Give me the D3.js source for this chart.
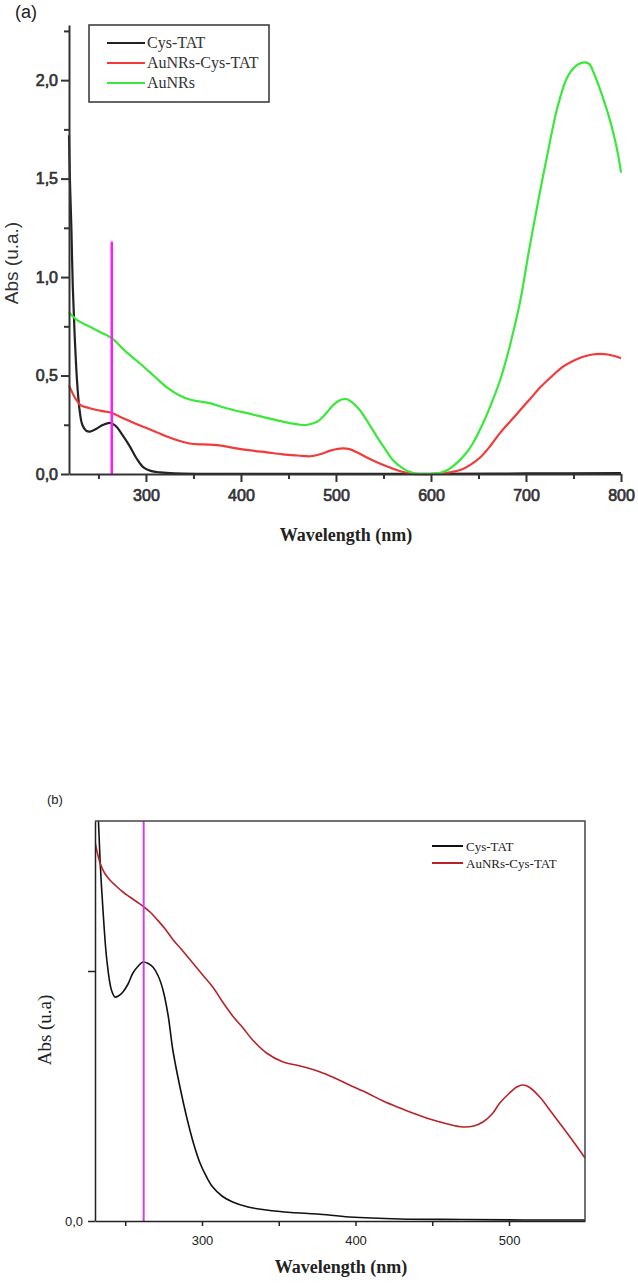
<!DOCTYPE html>
<html>
<head>
<meta charset="utf-8">
<script src="https://cdn.jsdelivr.net/npm/d3@7"></script>
<style>
  body { margin: 0; background: #fff; }
  svg { display: block; }
</style>
</head>
<body>
<svg width="638" height="1284"></svg>
<script>
// ---- data: panel (a), [wavelength nm, absorbance]
var cysTatA = [[219,1.72],[220,1.49],[221.5,1.25],[223,0.95],[225,0.7],[227.5,0.47],[230,0.33],[233,0.25],[237,0.22],[241,0.215],[248,0.23],[255,0.25],[262,0.26],[268,0.245],[275,0.2],[283,0.14],[290,0.08],[297,0.035],[305,0.016],[315,0.008],[330,0.003],[360,0.001],[450,0.001],[600,0.001],[700,0.003],[800,0.005]];
var auNRsCysTatA = [[219,0.45],[225,0.39],[231,0.35],[240,0.335],[248,0.325],[256,0.318],[264,0.31],[272,0.292],[280,0.275],[288,0.258],[297,0.24],[310,0.215],[322,0.19],[334,0.17],[346,0.155],[360,0.15],[375,0.147],[392,0.133],[410,0.12],[427,0.11],[444,0.1],[460,0.094],[473,0.09],[483,0.1],[495,0.12],[507,0.13],[515,0.125],[522,0.11],[532,0.085],[543,0.06],[554,0.038],[564,0.02],[572,0.008],[581,0],[600,0],[613,0.003],[622,0.01],[631,0.02],[641,0.045],[652,0.085],[662,0.14],[673,0.21],[684,0.27],[694,0.325],[705,0.385],[715,0.44],[727,0.495],[739,0.545],[750,0.575],[760,0.595],[770,0.607],[778,0.61],[786,0.607],[794,0.598],[800,0.588]];
var auNRsA = [[219,0.82],[228,0.78],[240,0.75],[252,0.72],[264,0.69],[278,0.625],[294,0.56],[308,0.5],[322,0.44],[335,0.4],[346,0.378],[357,0.368],[367,0.36],[380,0.34],[392,0.325],[410,0.305],[427,0.285],[445,0.265],[462,0.25],[470,0.25],[480,0.265],[490,0.31],[497,0.35],[504,0.375],[511,0.38],[518,0.36],[525,0.325],[534,0.26],[543,0.19],[552,0.125],[560,0.07],[570,0.03],[578,0.01],[588,0],[600,0],[609,0.005],[618,0.022],[627,0.055],[636,0.1],[644,0.155],[655,0.26],[665,0.375],[673,0.48],[680,0.595],[687,0.73],[694,0.88],[703,1.13],[713,1.39],[722,1.61],[733,1.86],[743,2.01],[752,2.07],[762,2.09],[767,2.08],[771,2.04],[776,1.98],[781,1.91],[787,1.82],[792,1.73],[797,1.62],[800,1.53]];
var markerA = 264;
var namesA = ["Cys-TAT", "AuNRs-Cys-TAT", "AuNRs"];
var colorsA = ["#222222", "#f23a3a", "#3ae83a"];
var xTicksA = [300, 400, 500, 600, 700, 800];
var xMinorA = [250, 350, 450, 550, 650, 750];
var yTicksA = [0, 0.5, 1, 1.5, 2];
var yMinorA = [0.25, 0.75, 1.25, 1.75, 2.25];

// ---- data: panel (b)
var cysTatB = [[231,0.95],[232,0.85],[233.6,0.722],[235.5,0.622],[238,0.522],[241,0.462],[243.3,0.448],[245.5,0.45],[248.5,0.458],[252,0.475],[255,0.496],[258.5,0.51],[261.6,0.518],[265,0.515],[268,0.508],[271.5,0.49],[274.6,0.462],[278,0.41],[281,0.342],[285.5,0.27],[290,0.208],[294.5,0.155],[298.7,0.116],[303,0.088],[307,0.068],[313,0.05],[320,0.038],[330,0.028],[342,0.022],[358,0.017],[375,0.014],[396,0.008],[429,0.004],[470,0.003],[510,0.002],[549.5,0.002]];
var auNRsCysTatB = [[230.3,0.758],[233.6,0.716],[236.5,0.696],[240,0.682],[244,0.67],[248.5,0.658],[253,0.648],[257.7,0.638],[262.2,0.628],[266.5,0.617],[270.7,0.603],[276,0.584],[281,0.563],[287.5,0.54],[294,0.516],[300.5,0.492],[307,0.468],[313,0.44],[320,0.41],[327,0.385],[333,0.362],[342,0.336],[352.8,0.318],[364,0.31],[377,0.298],[385,0.288],[396,0.272],[407.5,0.256],[418,0.24],[429,0.226],[440,0.213],[450.5,0.202],[460,0.194],[470,0.188],[477,0.19],[483,0.198],[489,0.214],[494,0.236],[500,0.255],[505,0.268],[509,0.272],[513,0.268],[520,0.248],[528,0.216],[537.8,0.176],[544,0.15],[549.5,0.126]];
var markerB = 262;
var namesB = ["Cys-TAT", "AuNRs-Cys-TAT"];
var colorsB = ["#111111", "#b8232a"];
var xTicksB = [300, 400, 500];
var xMinorB = [250, 350, 450];
var yTicksB = [0, 0.5];
var yLabelsB = ["0,0", ""];

var svg = d3.select("svg");
var fmt = d3.format(".1f");
var comma = (d) => fmt(d).replace(".", ",");

// =========== panel (a) ===========
var xA = d3.scaleLinear().domain([219, 800]).range([69, 621]);
var yA = d3.scaleLinear().domain([0, 2.28]).range([474, 25]);

var gA = svg.append("g");

gA.append("text").attr("x", 15).attr("y", 18)
  .style("font-family", "Arial, 'Liberation Sans', sans-serif")
  .style("font-size", "18px").attr("fill", "#222").text("(a)");

var lineA = d3.line().x((d) => xA(d[0])).y((d) => yA(d[1])).curve(d3.curveCatmullRom);

[cysTatA, auNRsCysTatA, auNRsA].forEach((s, i) => {
  gA.append("path").datum(s)
    .attr("d", lineA)
    .attr("fill", "none")
    .attr("stroke", colorsA[i])
    .attr("stroke-width", 2.2);
});

// marker line
gA.append("line")
  .attr("x1", xA(markerA)).attr("x2", xA(markerA))
  .attr("y1", yA(1.18)).attr("y2", yA(0))
  .attr("stroke", "#ff1aff").attr("stroke-width", 2.5);

// axes
var axA = gA.append("g").attr("transform", "translate(0,474)")
  .call(d3.axisBottom(xA).tickValues(xTicksA).tickSize(8).tickPadding(8).tickSizeOuter(0));
axA.append("g").call(d3.axisBottom(xA).tickValues(xMinorA).tickSize(5).tickFormat("").tickSizeOuter(0))
  .select(".domain").remove();
var ayA = gA.append("g").attr("transform", "translate(69,0)")
  .call(d3.axisLeft(yA).tickValues(yTicksA).tickSize(8).tickPadding(3).tickFormat(comma).tickSizeOuter(0));
ayA.append("g").call(d3.axisLeft(yA).tickValues(yMinorA).tickSize(5).tickFormat("").tickSizeOuter(0))
  .select(".domain").remove();

[axA, ayA].forEach((a) => {
  a.selectAll("path.domain").attr("stroke", "#333").attr("stroke-width", 2);
  a.selectAll("line").attr("stroke", "#333").attr("stroke-width", 2);
  a.selectAll("text")
    .style("font-family", "Arial, 'Liberation Sans', sans-serif")
    .style("font-size", "16px").attr("fill", "#333")
    .attr("stroke", "#333").attr("stroke-width", 0.7);
});

gA.append("text").attr("x", 346).attr("y", 541).attr("text-anchor", "middle")
  .style("font-family", "'Times New Roman', 'Liberation Serif', serif")
  .style("font-size", "18px").style("font-weight", "bold").attr("fill", "#222")
  .text("Wavelength (nm)");

gA.append("text").attr("transform", "translate(18,263) rotate(-90)")
  .attr("text-anchor", "middle")
  .style("font-family", "Arial, 'Liberation Sans', sans-serif")
  .style("font-size", "19px").attr("fill", "#333")
  .text("Abs (u.a.)");

// legend
var legA = gA.append("g");
legA.append("rect").attr("x", 89).attr("y", 25).attr("width", 180).attr("height", 77)
  .attr("fill", "#fff").attr("stroke", "#333").attr("stroke-width", 1.5);
namesA.forEach((n, i) => {
  var yy = 43 + i * 20;
  legA.append("line").attr("x1", 107).attr("x2", 145).attr("y1", yy).attr("y2", yy)
    .attr("stroke", colorsA[i]).attr("stroke-width", 2);
  legA.append("text").attr("x", 147).attr("y", yy + 5)
    .style("font-family", "'Times New Roman', 'Liberation Serif', serif")
    .style("font-size", "16px").attr("fill", "#333").text(n);
});

// =========== panel (b) ===========
var xB = d3.scaleLinear().domain([230.3, 549.5]).range([95, 585]);
var yB = d3.scaleLinear().domain([0, 0.8]).range([1221, 821]);

var gB = svg.append("g");

gB.append("text").attr("x", 47).attr("y", 804)
  .style("font-family", "Arial, 'Liberation Sans', sans-serif")
  .style("font-size", "13px").attr("fill", "#222").text("(b)");

gB.append("clipPath").attr("id", "clipB").append("rect")
  .attr("x", 95).attr("y", 821).attr("width", 490).attr("height", 400);

var lineB = d3.line().x((d) => xB(d[0])).y((d) => yB(d[1])).curve(d3.curveCatmullRom);

[cysTatB, auNRsCysTatB].forEach((s, i) => {
  gB.append("path").datum(s)
    .attr("clip-path", "url(#clipB)")
    .attr("d", lineB)
    .attr("fill", "none")
    .attr("stroke", colorsB[i])
    .attr("stroke-width", 1.6);
});

gB.append("line")
  .attr("x1", xB(markerB)).attr("x2", xB(markerB))
  .attr("y1", 821).attr("y2", 1221)
  .attr("stroke", "#d040e8").attr("stroke-width", 2);

// frame (top & right)
gB.append("path")
  .attr("d", "M95,821H585V1221")
  .attr("fill", "none").attr("stroke", "#444").attr("stroke-width", 1.5);

var axB = gB.append("g").attr("transform", "translate(0,1221)")
  .call(d3.axisBottom(xB).tickValues(xTicksB).tickSize(5).tickPadding(10).tickSizeOuter(0));
axB.append("g").call(d3.axisBottom(xB).tickValues(xMinorB).tickSize(5).tickFormat("").tickSizeOuter(0))
  .select(".domain").remove();
var ayB = gB.append("g").attr("transform", "translate(95,0)")
  .call(d3.axisLeft(yB).tickValues(yTicksB).tickSize(7).tickPadding(5)
    .tickFormat((d, i) => yLabelsB[i]).tickSizeOuter(0));

[axB, ayB].forEach((a) => {
  a.selectAll("path.domain").attr("stroke", "#222").attr("stroke-width", 1.5);
  a.selectAll("line").attr("stroke", "#222").attr("stroke-width", 1.5);
  a.selectAll("text")
    .style("font-family", "Arial, 'Liberation Sans', sans-serif")
    .style("font-size", "13px").attr("fill", "#222");
});

gB.append("text").attr("x", 341).attr("y", 1273).attr("text-anchor", "middle")
  .style("font-family", "'Times New Roman', 'Liberation Serif', serif")
  .style("font-size", "18px").style("font-weight", "bold").attr("fill", "#222")
  .text("Wavelength (nm)");

gB.append("text").attr("transform", "translate(51,1030) rotate(-90)")
  .attr("text-anchor", "middle")
  .style("font-family", "'Times New Roman', 'Liberation Serif', serif")
  .style("font-size", "19px").attr("fill", "#222")
  .text("Abs (u.a)");

var legB = gB.append("g");
namesB.forEach((n, i) => {
  var yy = 846 + i * 17;
  legB.append("line").attr("x1", 432).attr("x2", 463).attr("y1", yy).attr("y2", yy)
    .attr("stroke", colorsB[i]).attr("stroke-width", 2);
  legB.append("text").attr("x", 466).attr("y", yy + 4.5)
    .style("font-family", "'Times New Roman', 'Liberation Serif', serif")
    .style("font-size", "13px").attr("fill", "#222").text(n);
});
</script>
</body>
</html>
